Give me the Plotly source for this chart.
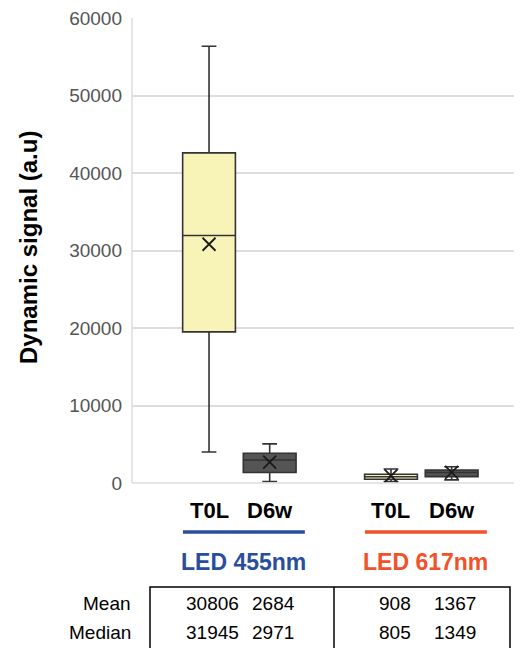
import plotly.graph_objects as go

# ---- data ----
groups = ["LED 455nm", "LED 455nm", "LED 617nm", "LED 617nm"]
conditions = ["T0L", "D6w", "T0L", "D6w"]
x_pos = [0, 1, 3, 4]
lower_whisker = [4000, 200, 180, 400]
q1_vals = [19500, 1350, 480, 820]
median_vals = [31945, 2971, 805, 1349]
q3_vals = [42600, 3830, 1130, 1680]
upper_whisker = [56350, 5050, 1800, 2100]
mean_vals = [30806, 2684, 908, 1367]
fill_colors = ["#F8F4B8", "#555555", "#F8F4B8", "#555555"]
y_ticks = [0, 10000, 20000, 30000, 40000, 50000, 60000]
group_labels = ["LED 455nm", "LED 617nm"]
group_colors = ["#2A4E9E", "#F0522A"]
row_labels = ["Mean", "Median"]

FONT = "Liberation Sans, Arial, sans-serif"
OFF = 8  # page body margin
PL, PR, PT, PB = 132, 522, 18, 483  # plot area in window pixels
W, H = 522 - OFF, 648 - OFF
ML, MT = PL - OFF, PT - OFF
PH = PB - PT
PW = PR - PL
MR = W - ML - PW
MB = H - MT - PH


def py(pix):
    """window pixel y -> paper y"""
    return (PB - pix) / PH


def px(pix):
    return (pix - PL) / PW


fig = go.Figure()
for i in range(4):
    fig.add_trace(go.Box(
        x=[x_pos[i]],
        q1=[q1_vals[i]], median=[median_vals[i]], q3=[q3_vals[i]],
        lowerfence=[lower_whisker[i]], upperfence=[upper_whisker[i]],
        fillcolor=fill_colors[i],
        line=dict(color="#333333", width=1.6),
        width=0.87, whiskerwidth=0.28,
        boxpoints=False, showlegend=False, hoverinfo="skip",
    ))

fig.add_trace(go.Scatter(
    x=x_pos, y=mean_vals, mode="markers",
    marker=dict(symbol="x-thin", size=13, line=dict(color="#1a1a1a", width=1.8)),
    showlegend=False, hoverinfo="skip",
))

fig.update_layout(
    width=W, height=H,
    margin=dict(l=ML, r=MR, t=MT, b=MB, pad=0),
    plot_bgcolor="white", paper_bgcolor="white",
    font=dict(family=FONT),
    xaxis=dict(range=[-1.27, 5.16], showticklabels=False, showgrid=False,
               zeroline=False, showline=False, ticks=""),
    yaxis=dict(range=[0, 60000], tickvals=y_ticks,
               ticktext=[str(v) for v in y_ticks],
               tickfont=dict(size=19, color="#555555", family=FONT),
               showgrid=True, gridcolor="#DDDDDD", gridwidth=1.5,
               zeroline=False, showline=False, ticks="", ticklabelstandoff=9,
               ticklabeloverflow="allow"),
)

# left axis line and bottom axis line
fig.add_shape(type="line", xref="paper", yref="paper", x0=0, x1=0, y0=0, y1=1,
              line=dict(color="#DDDDDD", width=1.5))
fig.add_shape(type="line", xref="paper", yref="paper", x0=0, x1=1, y0=0, y1=0,
              line=dict(color="#DDDDDD", width=1.5))


def label(text, xref, x, ypix, size, color="black", xanchor="center"):
    fig.add_annotation(text=text, xref=xref, yref="paper", x=x, y=py(ypix),
                       xanchor=xanchor, yanchor="middle", showarrow=False,
                       font=dict(size=size, color=color, family=FONT))


# y-axis title
fig.add_annotation(text="<b>Dynamic signal (a.u)</b>", xref="paper", yref="paper",
                   x=px(28), y=py(248), textangle=-90, showarrow=False,
                   xanchor="center", yanchor="middle",
                   font=dict(size=24, color="black", family=FONT))

# category labels
for i in range(4):
    label(f"<b>{conditions[i]}</b>", "x", x_pos[i], 510, 22)

# group lines and labels
for g in range(2):
    xa, xb = x_pos[2 * g], x_pos[2 * g + 1]
    fig.add_shape(type="line", xref="x", yref="paper",
                  x0=xa - 0.43, x1=xb + 0.58, y0=py(532), y1=py(532),
                  line=dict(color=group_colors[g], width=3.5))
    label(f"<b>{group_labels[g]}</b>", "x", (xa + xb) / 2 + 0.07, 562, 23,
          color=group_colors[g])

# table
fig.add_shape(type="rect", xref="paper", yref="paper",
              x0=px(150), x1=px(510), y0=py(700), y1=py(587),
              line=dict(color="black", width=1.5))
fig.add_shape(type="line", xref="paper", yref="paper",
              x0=px(334), x1=px(334), y0=py(700), y1=py(587),
              line=dict(color="black", width=1.5))
rows = [mean_vals, median_vals]
row_y = [603, 632]
for r in range(2):
    label(row_labels[r], "paper", px(133), row_y[r], 19, xanchor="right")
    for i in range(4):
        label(str(rows[r][i]), "x", x_pos[i] + 0.06, row_y[r], 19)

fig.write_html("out.html")
